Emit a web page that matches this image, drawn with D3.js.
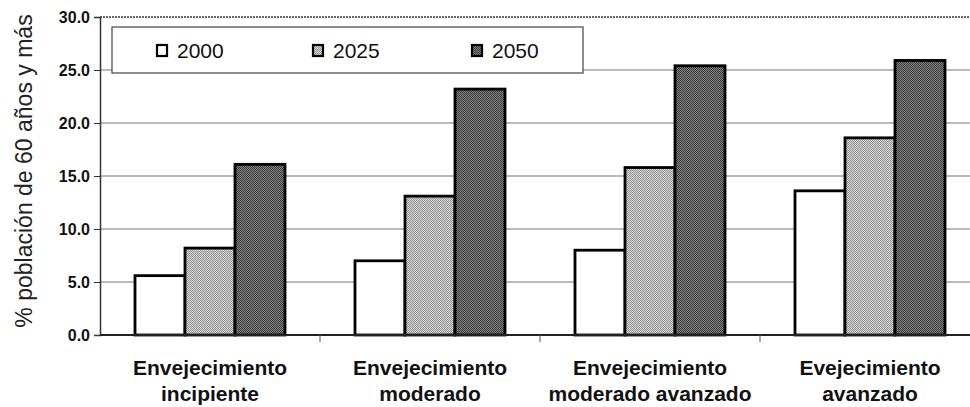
<!DOCTYPE html>
<html><head><meta charset="utf-8">
<script src="https://cdn.jsdelivr.net/npm/d3@7"></script>
<style>body{margin:0;background:#fff}svg{display:block}</style>
</head><body>
<svg id="c" width="970" height="407"></svg>
<script>
const categories = [["Envejecimiento","incipiente"],["Envejecimiento","moderado"],["Envejecimiento","moderado avanzado"],["Evejecimiento","avanzado"]];
const series = ["2000","2025","2050"];
const values2000 = [5.6, 7.0, 8.0, 13.6];
const values2025 = [8.2, 13.1, 15.8, 18.6];
const values2050 = [16.1, 23.2, 25.4, 25.9];
const yTicks = [0,5,10,15,20,25,30];
const yTitle = "% población de 60 años y más";

const svg = d3.select("#c");
const font = "'Liberation Sans', Arial, Helvetica, sans-serif";
const defs = svg.append("defs");
function pat(id, a, b){
  const p = defs.append("pattern").attr("id",id).attr("width",2).attr("height",2).attr("patternUnits","userSpaceOnUse");
  p.append("rect").attr("width",2).attr("height",2).attr("fill",a);
  p.append("rect").attr("width",1).attr("height",1).attr("fill",b);
  p.append("rect").attr("x",1).attr("y",1).attr("width",1).attr("height",1).attr("fill",b);
}
pat("p2025","#d6d6d6","#949494");
pat("p2050","#808080","#3c3c3c");
const fills = {"2000":"#ffffff","2025":"url(#p2025)","2050":"url(#p2050)"};
const seriesVals = {"2000":values2000,"2025":values2025,"2050":values2050};

const pLeft=100, pRight=980, pTop=17, pBottom=335;
const x0 = d3.scaleBand().domain(d3.range(categories.length)).range([pLeft,pRight]);
const groupW = 150;
const x1 = d3.scaleBand().domain(series).range([0,groupW]);
const y = d3.scaleLinear().domain([0,30]).range([pBottom,pTop]);

// gridlines
svg.append("g").selectAll("line").data(yTicks.filter(t=>t>0&&t<30)).join("line")
  .attr("x1",pLeft).attr("x2",970).attr("y1",d=>y(d)).attr("y2",d=>y(d))
  .attr("stroke","#777").attr("stroke-width",1.2);
// top border
svg.append("line").attr("x1",pLeft).attr("x2",970).attr("y1",y(30)).attr("y2",y(30))
  .attr("stroke","#666").attr("stroke-width",2).attr("stroke-dasharray","2,1");

// y axis
const yAxis = d3.axisLeft(y).tickValues(yTicks).tickFormat(d3.format(".1f")).tickSize(6).tickPadding(4);
const gy = svg.append("g").attr("transform",`translate(${pLeft},0)`).call(yAxis);
gy.select(".domain").attr("stroke","#333").attr("stroke-width",1.5);
gy.selectAll(".tick line").attr("stroke","#333");
gy.selectAll("text").attr("font-family",font).attr("font-weight","bold").attr("font-size","16px").attr("fill","#111");

// legend box
svg.append("rect").attr("x",112).attr("y",27).attr("width",471).attr("height",46)
  .attr("fill","#fff").attr("stroke","#444").attr("stroke-width",1.2);

// bars
const g = svg.append("g");
categories.forEach((c,i)=>{
  series.forEach(s=>{
    const v = seriesVals[s][i];
    g.append("rect")
      .attr("x", x0(i) + (x0.bandwidth()-groupW)/2 + x1(s))
      .attr("y", y(v)).attr("width", x1.bandwidth()).attr("height", y(0)-y(v))
      .attr("fill", fills[s]).attr("stroke","#000").attr("stroke-width",2.8);
  });
});

// x axis
svg.append("line").attr("x1",pLeft).attr("x2",970).attr("y1",pBottom).attr("y2",pBottom).attr("stroke","#222").attr("stroke-width",2);
svg.append("g").selectAll("line").data(d3.range(1,categories.length)).join("line")
  .attr("x1",d=>x0(d)).attr("x2",d=>x0(d)).attr("y1",pBottom).attr("y2",pBottom+7).attr("stroke","#555").attr("stroke-width",1);

// category labels
const lab = svg.append("g").selectAll("text").data(categories).join("text")
  .attr("x",(d,i)=>x0(i)+x0.bandwidth()/2).attr("text-anchor","middle")
  .attr("font-family",font).attr("font-weight","bold").attr("font-size","21px").attr("fill","#111");
lab.each(function(d){
  const t=d3.select(this);
  t.append("tspan").attr("x",t.attr("x")).attr("y",375).text(d[0]);
  t.append("tspan").attr("x",t.attr("x")).attr("y",401).text(d[1]);
});

// legend items
const legX = [157, 313, 472];
series.forEach((s,i)=>{
  svg.append("rect").attr("x",legX[i]).attr("y",45).attr("width",10).attr("height",11)
    .attr("fill",fills[s]).attr("stroke","#000").attr("stroke-width",2.2);
  svg.append("text").attr("x",legX[i]+20).attr("y",58).text(s)
    .attr("font-family",font).attr("font-size","21px").attr("fill","#111");
});

// y title
svg.append("text").attr("transform","translate(32,171) rotate(-90)").attr("text-anchor","middle")
  .attr("font-family",font).attr("font-size","23px").attr("fill","#222").text(yTitle);
</script>
</body></html>
